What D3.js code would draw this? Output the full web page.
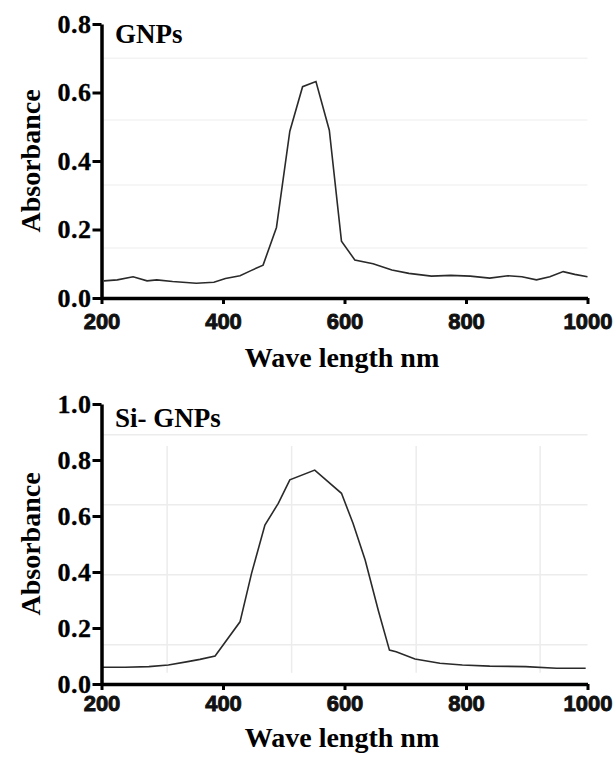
<!DOCTYPE html>
<html>
<head>
<meta charset="utf-8">
<script src="https://cdn.jsdelivr.net/npm/d3@7"></script>
<style>
  body { margin: 0; background: #fff; }
  svg { display: block; }
</style>
</head>
<body>
<svg id="chart"></svg>
<script>
// GNPs spectrum (wavelength nm, absorbance)
var gnpsWave = [204, 226, 252, 275, 291, 317, 356, 385, 404, 428, 446, 466, 488, 510, 531, 553, 575, 595, 617, 647, 678, 706, 743, 775, 807, 839, 869, 892, 916, 938, 960, 979, 1000];
var gnpsAbs  = [0.050, 0.053, 0.062, 0.050, 0.053, 0.048, 0.043, 0.046, 0.057, 0.065, 0.080, 0.096, 0.206, 0.487, 0.617, 0.632, 0.490, 0.166, 0.111, 0.100, 0.082, 0.072, 0.064, 0.066, 0.064, 0.058, 0.065, 0.062, 0.053, 0.062, 0.077, 0.069, 0.062];

// Si- GNPs spectrum
var siWave = [202, 239, 278, 310, 342, 362, 387, 428, 447, 469, 491, 510, 551, 595, 614, 634, 656, 674, 685, 716, 757, 794, 839, 898, 949, 997];
var siAbs  = [0.060, 0.060, 0.062, 0.068, 0.080, 0.088, 0.100, 0.222, 0.395, 0.568, 0.645, 0.729, 0.764, 0.681, 0.574, 0.443, 0.260, 0.121, 0.115, 0.089, 0.074, 0.068, 0.064, 0.062, 0.056, 0.056];

// tick values
var xTicks = [200, 400, 600, 800, 1000];
var gnpsYTicks = [0, 0.2, 0.4, 0.6, 0.8];
var siYTicks = [0, 0.2, 0.4, 0.6, 0.8, 1.0];

// faint background grid lines seen in the scan
var gnpsGridY = [0.146, 0.33, 0.52, 0.70];
var siGridY = [0.14, 0.39, 0.64, 0.89];
var siGridX = [308, 513, 718, 922];

var svg = d3.select("#chart").attr("width", 615).attr("height", 762);

function drawPanel(opts) {
    var x = d3.scaleLinear().domain([200, 1000]).range([101.5, 587.5]);
    var y = d3.scaleLinear().domain([0, opts.yMax]).range([opts.bottom, opts.top]);
    var g = svg.append("g");

    // grid
    g.selectAll(".gy").data(opts.gridY).join("line")
        .attr("x1", x(200)).attr("x2", x(1000))
        .attr("y1", d => y(d)).attr("y2", d => y(d))
        .attr("stroke", opts.gridColor).attr("stroke-width", 1.5);
    g.selectAll(".gx").data(opts.gridX).join("line")
        .attr("x1", d => x(d)).attr("x2", d => x(d))
        .attr("y1", y(0.04)).attr("y2", y(opts.yMax * 0.85))
        .attr("stroke", opts.gridColor).attr("stroke-width", 1.5);

    // spectrum line
    var pts = opts.wave.map((w, i) => [w, opts.abs[i]]);
    g.append("path")
        .datum(pts)
        .attr("fill", "none")
        .attr("stroke", "#2a2a2a")
        .attr("stroke-width", 1.6)
        .attr("d", d3.line().x(d => x(d[0])).y(d => y(d[1])));

    // x axis
    var xa = g.append("g")
        .attr("transform", `translate(0, ${opts.bottom})`)
        .call(d3.axisBottom(x).tickValues(xTicks).tickFormat(d3.format("d"))
            .tickSize(6).tickSizeOuter(0).tickPadding(opts.xPad));
    xa.selectAll("text")
        .style("font-family", "'Liberation Sans', Arial, sans-serif")
        .style("font-weight", "bold")
        .style("font-size", "22px")
        .attr("fill", "#111")
        .attr("stroke", "#111").attr("stroke-width", 0.9);

    // y axis
    var ya = g.append("g")
        .attr("transform", `translate(${x(200)}, 0)`)
        .call(d3.axisLeft(y).tickValues(opts.yTicks).tickFormat(d3.format(".1f"))
            .tickSize(9).tickSizeOuter(0).tickPadding(1));
    ya.selectAll("text")
        .style("font-family", "'Liberation Serif', 'Times New Roman', serif")
        .style("font-weight", "bold")
        .style("font-size", "26px")
        .style("letter-spacing", "0.5px")
        .attr("fill", "#000")
        .attr("stroke", "#000").attr("stroke-width", 0.3);

    [xa, ya].forEach(a => {
        a.select(".domain").attr("stroke", "#000").attr("stroke-width", 3.5);
        a.selectAll(".tick line").attr("stroke", "#000").attr("stroke-width", 3);
    });

    // panel label
    g.append("text")
        .attr("x", 115).attr("y", opts.labelY)
        .style("font-family", "'Liberation Serif', 'Times New Roman', serif")
        .style("font-weight", "bold")
        .style("font-size", "27px")
        .text(opts.label);

    // y-axis title
    g.append("text")
        .attr("transform", `translate(40, ${(opts.top + opts.bottom) / 2}) rotate(-90)`)
        .attr("text-anchor", "middle")
        .style("font-family", "'Liberation Serif', 'Times New Roman', serif")
        .style("font-weight", "bold")
        .style("font-size", "28px")
        .text("Absorbance");

    // x-axis title
    g.append("text")
        .attr("x", 342).attr("y", opts.titleY)
        .attr("text-anchor", "middle")
        .style("font-family", "'Liberation Serif', 'Times New Roman', serif")
        .style("font-weight", "bold")
        .style("font-size", "28px")
        .text("Wave length nm");
}

drawPanel({
    wave: gnpsWave, abs: gnpsAbs, yMax: 0.8, yTicks: gnpsYTicks,
    top: 24, bottom: 298, xPad: 9, label: "GNPs", labelY: 43, titleY: 367,
    gridY: gnpsGridY, gridX: [], gridColor: "#f3f3f3"
});

drawPanel({
    wave: siWave, abs: siAbs, yMax: 1.0, yTicks: siYTicks,
    top: 404, bottom: 684, xPad: 5, label: "Si- GNPs", labelY: 427, titleY: 747,
    gridY: siGridY, gridX: siGridX, gridColor: "#ececec"
});
</script>
</body>
</html>
